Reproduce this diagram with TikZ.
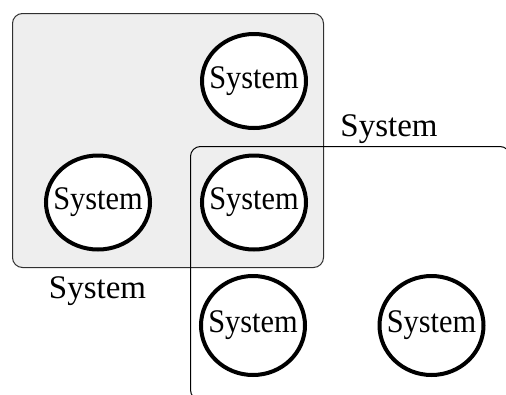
\documentclass[tikz,border=0pt]{standalone}
\usepackage{fontspec}
\setmainfont{Liberation Serif}
\usetikzlibrary{shapes.geometric}
\definecolor{groupfill}{HTML}{EEEEEE}
\definecolor{groupline}{HTML}{303030}
\newcommand{\systxt}{\makebox[0pt]{\scalebox{0.92}[1]{System}}}
\tikzset{
  sys/.style={ellipse, draw=black, line width=4pt, fill=white, inner sep=0pt,
    minimum width=104pt, minimum height=94pt,
    font=\fontsize{33}{33}\selectfont},
  sysb/.style={sys, minimum height=99pt},
  grouplabel/.style={font=\fontsize{33}{33}\selectfont, inner sep=0pt, anchor=base},
  groupbox/.style={draw=groupline, fill=groupfill, line width=1pt, rounded corners=10pt},
  framebox/.style={draw=black, line width=1pt, rounded corners=10pt}
}
\begin{document}
\begin{tikzpicture}[x=1pt,y=-1pt]
\useasboundingbox (0,0) rectangle (506,394);
\clip (0,0) rectangle (506,394);
\coordinate (g1) at (12.5,13.5);
\coordinate (g2) at (323.5,267.5);
\draw[groupbox] (g1) rectangle (g2);
\coordinate (f1) at (190.5,146.5);
\coordinate (f2) at (510,400);
\draw[framebox] (f1) rectangle (f2);
\node[sys] (s1) at (254,81) {\systxt};
\node[sys] (s2) at (98,202.5) {\systxt};
\node[sys] (s3) at (254,202.5) {\systxt};
\node[sysb] (s4) at (253,325.5) {\systxt};
\node[sysb] (s5) at (431.5,325.5) {\systxt};
\node[grouplabel] (l1) at (389,136) {System};
\node[grouplabel] (l2) at (97.5,298) {System};
\end{tikzpicture}
\end{document}
